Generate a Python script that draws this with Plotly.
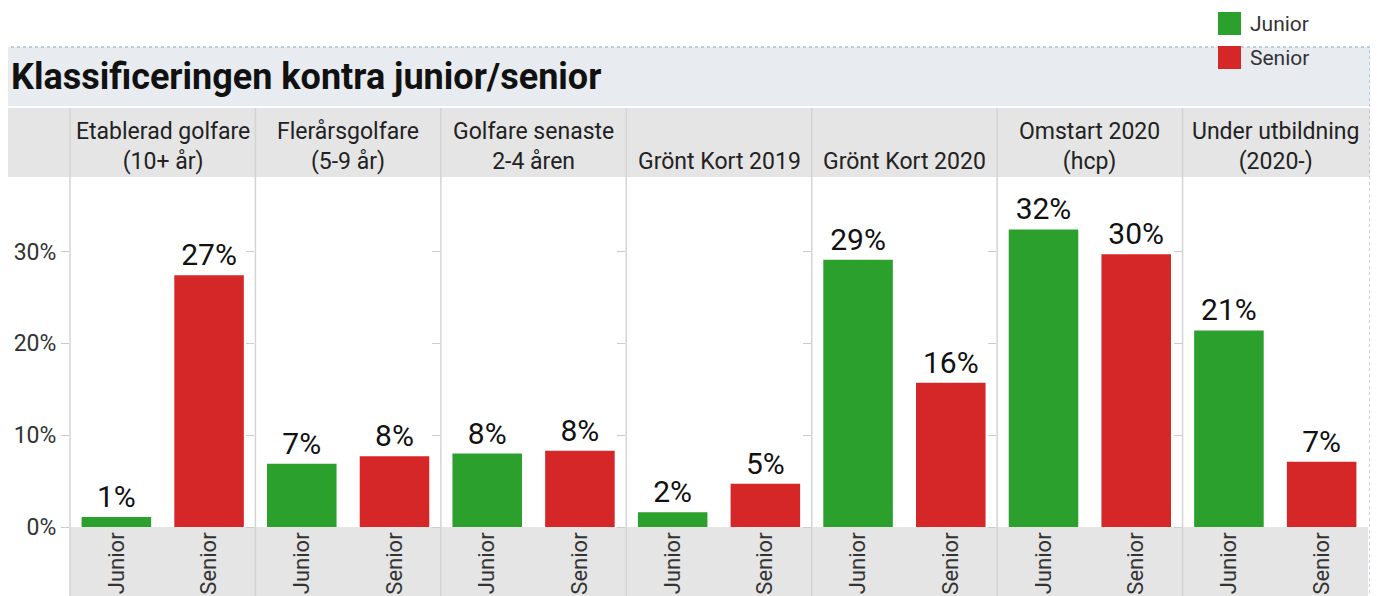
import plotly.graph_objects as go
from plotly.subplots import make_subplots

# ── data ────────────────────────────────────────────────────────────────────
groups = [
    "Etablerad golfare<br>(10+ år)",
    "Flerårsgolfare<br>(5-9 år)",
    "Golfare senaste<br>2-4 åren",
    "Grönt Kort 2019",
    "Grönt Kort 2020",
    "Omstart 2020<br>(hcp)",
    "Under utbildning<br>(2020-)",
]
series = ["Junior", "Senior"]
junior = [1.1, 6.9, 8.0, 1.6, 29.1, 32.4, 21.4]
senior = [27.4, 7.7, 8.3, 4.7, 15.7, 29.7, 7.1]
y_ticks = [0, 10, 20, 30]

colors = {"Junior": "#2ca02c", "Senior": "#d62728"}

# ── page geometry ───────────────────────────────────────────────────────────
# the page body has an 8px margin, so the figure is drawn 8px in and
# positions below are given in window pixels and shifted back by OFF
OFF = 8
W, H = 1378 - OFF, 596 - OFF
L, R, T, B = 70 - OFF, 10, 178 - OFF, 69
PW, PH = W - L - R, H - T - B


def xp(px):
    return (px - OFF - L) / PW


def yp(py):
    return (H - B - (py - OFF)) / PH


FONT = "Roboto"
n = len(groups)

fig = make_subplots(rows=1, cols=n, shared_yaxes=True, horizontal_spacing=0)

for i in range(n):
    vals = [junior[i], senior[i]]
    fig.add_trace(go.Bar(
        x=series,
        y=vals,
        marker=dict(color=[colors[s] for s in series], line=dict(width=0)),
        texttemplate="%{y:.0f}%",
        textposition="outside",
        textfont=dict(family=FONT, size=30, color="#111111"),
        cliponaxis=False,
        showlegend=False,
        hoverinfo="skip",
    ), row=1, col=i + 1)

    fig.update_xaxes(
        row=1, col=i + 1,
        tickangle=-90,
        tickfont=dict(family=FONT, size=22, color="#333333"),
        showgrid=False, zeroline=False, showline=False,
        automargin=False,
    )

fig.update_yaxes(
    range=[0, 38],
    tickvals=y_ticks,
    ticktext=[f"{v}%" for v in y_ticks],
    ticks="outside", ticklen=8, tickcolor="#cccccc",
    tickfont=dict(family=FONT, size=23, color="#333333"),
    showgrid=False, zeroline=False, showline=False,
    automargin=False,
)

shapes = []
# title band
shapes.append(dict(type="rect", xref="paper", yref="paper",
                   x0=xp(7), x1=xp(1370), y0=yp(106), y1=yp(47),
                   fillcolor="#e8ecf0", line=dict(width=0), layer="below"))
# facet header band
shapes.append(dict(type="rect", xref="paper", yref="paper",
                   x0=xp(7), x1=xp(1370), y0=yp(177), y1=yp(108),
                   fillcolor="#e5e5e5", line=dict(width=0), layer="below"))
# bottom axis band
shapes.append(dict(type="rect", xref="paper", yref="paper",
                   x0=0, x1=1, y0=yp(605), y1=yp(527),
                   fillcolor="#e5e5e5", line=dict(width=0), layer="below"))
# column separators
for k in range(n):
    shapes.append(dict(type="line", xref="paper", yref="paper",
                       x0=k / n, x1=k / n, y0=yp(605), y1=yp(108),
                       line=dict(color="#d4d4d4", width=1.5), layer="below"))
# dotted outer border
shapes.append(dict(type="rect", xref="paper", yref="paper",
                   x0=xp(7), x1=xp(1370), y0=yp(640), y1=yp(47),
                   line=dict(color="#8aa6c8", width=1, dash="dot"),
                   fillcolor="rgba(0,0,0,0)", layer="above"))

# legend swatches
for j, s in enumerate(series):
    top = 12 + j * 34
    shapes.append(dict(type="rect", xref="paper", yref="paper",
                       x0=xp(1218), x1=xp(1241), y0=yp(top + 23), y1=yp(top),
                       fillcolor=colors[s], line=dict(width=0), layer="above"))

annotations = []
annotations.append(dict(
    text="<b>Klassificeringen kontra junior/senior</b>",
    xref="paper", yref="paper", x=xp(9), y=yp(77),
    xanchor="left", yanchor="middle", showarrow=False,
    font=dict(family=FONT, size=36, color="#111111"),
))
for i, g in enumerate(groups):
    annotations.append(dict(
        text=g, xref="paper", yref="paper",
        x=(i + 0.5) / n, y=yp(177),
        xanchor="center", yanchor="bottom", showarrow=False,
        font=dict(family=FONT, size=23, color="#222222"),
    ))
for j, s in enumerate(series):
    annotations.append(dict(
        text=s, xref="paper", yref="paper",
        x=xp(1248), y=yp(24 + j * 34),
        xanchor="left", yanchor="middle", showarrow=False,
        font=dict(family=FONT, size=21, color="#333333"),
    ))

fig.update_layout(
    width=W, height=H,
    margin=dict(l=L, r=R, t=T, b=B, autoexpand=False),
    bargap=0.25,
    paper_bgcolor="white",
    plot_bgcolor="rgba(0,0,0,0)",
    showlegend=False,
    shapes=shapes,
    annotations=annotations,
    font=dict(family=FONT),
)

fig.write_html("out.html")
